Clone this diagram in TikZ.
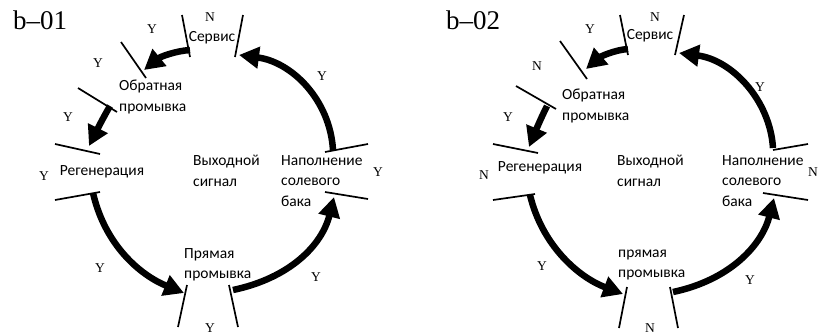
\documentclass[tikz,border=0pt]{standalone}
\usepackage{fontspec}
\setmainfont{Carlito}
\newfontfamily\ynfont{Liberation Serif}
\usetikzlibrary{arrows.meta}
\tikzset{
  tick/.style={line width=1.7pt},
  bigarrow/.style={line width=6.5pt,-{Triangle[length=20pt,width=21pt]}},
  lbl/.style={font=\fontsize{15.5}{20.5}\selectfont,inner sep=0pt,align=left},
  yn/.style={font=\ynfont\fontsize{13.5}{13.5}\selectfont,inner sep=0pt},
  ttl/.style={font=\ynfont\fontsize{27}{27}\selectfont,inner sep=0pt}
}
\begin{document}
\begin{tikzpicture}[x=1pt,y=-1pt]
\useasboundingbox[fill=white] (0,0) rectangle (820,335);
% ================= LEFT b-01 =================
\node[ttl] (t1) at (40,20) {b–01};
% ticks
\coordinate (Ls1a) at (182,15); \coordinate (Ls1b) at (190,57);
\coordinate (Ls2a) at (243,15); \coordinate (Ls2b) at (235,57);
\coordinate (Lo1a) at (121,42); \coordinate (Lo1b) at (146,78);
\coordinate (Lo2a) at (78,88);  \coordinate (Lo2b) at (117,112);
\coordinate (Lr1a) at (55,144); \coordinate (Lr1b) at (100,154);
\coordinate (Lr2a) at (55,200); \coordinate (Lr2b) at (100,192);
\coordinate (Lp1a) at (187,285); \coordinate (Lp1b) at (178,327);
\coordinate (Lp2a) at (229,285); \coordinate (Lp2b) at (238,327);
\coordinate (Ln1a) at (325,192); \coordinate (Ln1b) at (368,199);
\coordinate (Ln2a) at (325,152); \coordinate (Ln2b) at (368,144);
\foreach \t in {s1,s2,o1,o2,r1,r2,p1,p2,n1,n2}
  \draw[tick] (L\t a) -- (L\t b);
% arrow endpoints
\coordinate (LA1s) at (333,150); \coordinate (LA1e) at (239,55);
\coordinate (LA2s) at (190,50);  \coordinate (LA2e) at (144,70);
\coordinate (LA3s) at (110,106); \coordinate (LA3e) at (89,146);
\coordinate (LA4s) at (93,193);  \coordinate (LA4e) at (184,293);
\coordinate (LA5s) at (233,290); \coordinate (LA5e) at (334,197);
\draw[bigarrow] (LA1s) .. controls (330,100) and (292,62) .. (LA1e);
\draw[bigarrow] (LA2s) .. controls (175,51) and (160,57) .. (LA2e);
\draw[bigarrow] (LA3s) .. controls (103,118) and (97,130) .. (LA3e);
\draw[bigarrow] (LA4s) .. controls (105,245) and (140,275) .. (LA4e);
\draw[bigarrow] (LA5s) .. controls (290,278) and (322,245) .. (LA5e);
% labels
\node[lbl] (Lserv) at (212,38) {Сервис};
\node[lbl,anchor=west] (Lobr) at (119,97) {Обратная\\промывка};
\node[lbl] (Lreg) at (102,172) {Регенерация};
\node[lbl,anchor=west] (Lout) at (193,171) {Выходной\\сигнал};
\node[lbl,anchor=west] (Lnap) at (281,181) {Наполнение\\солевого\\бака};
\node[lbl,anchor=west] (Lpr) at (184,265) {Прямая\\промывка};
\node[yn] (Ly1) at (210,17) {N};
\node[yn] (Ly2) at (152,29) {Y};
\node[yn] (Ly3) at (98,63) {Y};
\node[yn] (Ly4) at (68,117) {Y};
\node[yn] (Ly5) at (44,176) {Y};
\node[yn] (Ly6) at (100,268) {Y};
\node[yn] (Ly7) at (210,328) {Y};
\node[yn] (Ly8) at (316,277) {Y};
\node[yn] (Ly9) at (378,172) {Y};
\node[yn] (Ly10) at (322,76) {Y};
% ================= RIGHT b-02 =================
\node[ttl] (t2) at (473,20) {b–02};
\coordinate (Rs1a) at (620,15); \coordinate (Rs1b) at (628,55);
\coordinate (Rs2a) at (684,15); \coordinate (Rs2b) at (675,55);
\coordinate (Ro1a) at (560,41); \coordinate (Ro1b) at (587,79);
\coordinate (Ro2a) at (516,86); \coordinate (Ro2b) at (556,109);
\coordinate (Rr1a) at (493,144); \coordinate (Rr1b) at (538,153);
\coordinate (Rr2a) at (493,200); \coordinate (Rr2b) at (535,194);
\coordinate (Rp1a) at (627,287); \coordinate (Rp1b) at (619,328);
\coordinate (Rp2a) at (670,287); \coordinate (Rp2b) at (678,328);
\coordinate (Rn1a) at (763,193); \coordinate (Rn1b) at (808,200);
\coordinate (Rn2a) at (773,150); \coordinate (Rn2b) at (808,144);
\foreach \t in {s1,s2,o1,o2,r1,r2,p1,p2,n1,n2}
  \draw[tick] (R\t a) -- (R\t b);
\coordinate (RA1s) at (773,148); \coordinate (RA1e) at (679,53);
\coordinate (RA2s) at (628,49);  \coordinate (RA2e) at (586,69);
\coordinate (RA3s) at (547,106); \coordinate (RA3e) at (529,147);
\coordinate (RA4s) at (530,195); \coordinate (RA4e) at (623,294);
\coordinate (RA5s) at (673,292); \coordinate (RA5e) at (774,198);
\draw[bigarrow] (RA1s) .. controls (770,100) and (732,60) .. (RA1e);
\draw[bigarrow] (RA2s) .. controls (614,50) and (600,57) .. (RA2e);
\draw[bigarrow] (RA3s) .. controls (541,118) and (536,130) .. (RA3e);
\draw[bigarrow] (RA4s) .. controls (542,245) and (578,277) .. (RA4e);
\draw[bigarrow] (RA5s) .. controls (730,280) and (762,245) .. (RA5e);
\node[lbl] (Rserv) at (650,36) {Сервис};
\node[lbl,anchor=west] (Robr) at (562,106) {Обратная\\промывка};
\node[lbl] (Rreg) at (540,168) {Регенерация};
\node[lbl,anchor=west] (Rout) at (617,171) {Выходной\\сигнал};
\node[lbl,anchor=west] (Rnap) at (722,181) {Наполнение\\солевого\\бака};
\node[lbl,anchor=west] (Rpr) at (618,265) {прямая\\промывка};
\node[yn] (Ry1) at (655,17) {N};
\node[yn] (Ry2) at (590,29) {Y};
\node[yn] (Ry3) at (537,66) {N};
\node[yn] (Ry4) at (508,117) {Y};
\node[yn] (Ry5) at (484,175) {N};
\node[yn] (Ry6) at (542,266) {Y};
\node[yn] (Ry7) at (650,328) {N};
\node[yn] (Ry8) at (750,280) {Y};
\node[yn] (Ry9) at (813,172) {N};
\node[yn] (Ry10) at (760,87) {Y};
\end{tikzpicture}
\end{document}
